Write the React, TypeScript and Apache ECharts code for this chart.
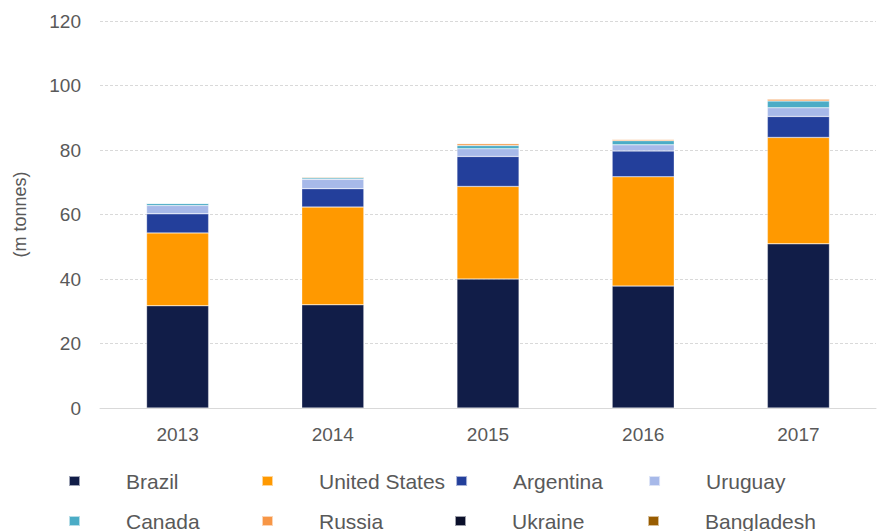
import React, { useEffect, useRef } from "react";
import * as echarts from "echarts";

const years = ["2013", "2014", "2015", "2016", "2017"];
const brazil = [31.7, 32.0, 40.0, 37.8, 50.9];
const unitedStates = [22.6, 30.3, 28.7, 33.9, 33.0];
const argentina = [5.9, 5.7, 9.3, 8.0, 6.5];
const uruguay = [2.6, 2.9, 2.4, 1.9, 2.7];
const canada = [0.7, 0.5, 1.0, 1.3, 2.1];
const russia = [0, 0, 0.6, 0.4, 0.6];
const ukraine = [0, 0, 0, 0, 0];
const bangladesh = [0, 0.2, 0, 0.2, 0.2];

const seriesDefs = [
  { name: "Brazil", data: brazil, color: "#111d48" },
  { name: "United States", data: unitedStates, color: "#ff9900" },
  { name: "Argentina", data: argentina, color: "#233f9b" },
  { name: "Uruguay", data: uruguay, color: "#a7b9e9" },
  { name: "Canada", data: canada, color: "#4bacc6" },
  { name: "Russia", data: russia, color: "#f79646" },
  { name: "Ukraine", data: ukraine, color: "#0a0f2a" },
  { name: "Bangladesh", data: bangladesh, color: "#985c00" },
];

const FONT = "'Liberation Sans', Arial, sans-serif";
const GREY = "#595959";

export default function App() {
  const ref = useRef<HTMLDivElement>(null);
  useEffect(() => {
    if (!ref.current) return;
    const chart = echarts.init(ref.current, undefined, { renderer: "svg" });
    chart.setOption({
      animation: false,
      textStyle: { fontFamily: FONT },
      grid: {
        left: 100,
        right: 4,
        top: 21,
        bottom: 123,
        containLabel: false,
        outerBoundsMode: "none",
      },
      legend: {
        left: 63,
        top: 461,
        width: 770,
        orient: "horizontal",
        itemWidth: 11,
        itemHeight: 10,
        itemGap: 10,
        icon: "rect",
        textStyle: {
          fontFamily: FONT,
          fontSize: 21,
          color: GREY,
          width: 125,
          lineHeight: 30,
          padding: [0, 0, 0, 41],
        },
        data: seriesDefs.map((s) => s.name),
      },
      xAxis: {
        type: "category",
        data: years,
        axisLine: { lineStyle: { color: "#d9d9d9", width: 1 } },
        axisTick: { show: false },
        axisLabel: { color: GREY, fontSize: 19, margin: 17, fontFamily: FONT },
      },
      yAxis: {
        type: "value",
        min: 0,
        max: 120,
        interval: 20,
        name: "(m tonnes)",
        nameLocation: "middle",
        nameGap: 71,
        nameRotate: 90,
        nameTextStyle: { color: GREY, fontSize: 18, fontFamily: FONT },
        axisLine: { show: false },
        axisTick: { show: false },
        axisLabel: { color: GREY, fontSize: 19, margin: 19, fontFamily: FONT },
        splitLine: { lineStyle: { color: "#d9d9d9", type: [3, 2], width: 1 } },
      },
      series: seriesDefs.map((s) => ({
        name: s.name,
        type: "bar",
        stack: "total",
        data: s.data,
        barWidth: "40%",
        itemStyle: { color: s.color, borderColor: "rgba(255,255,255,0.6)", borderWidth: 0.5 },
      })),
    });
    return () => chart.dispose();
  }, []);
  return <div ref={ref} style={{ width: 880, height: 531, position: "absolute", left: 0, top: 0 }} />;
}
